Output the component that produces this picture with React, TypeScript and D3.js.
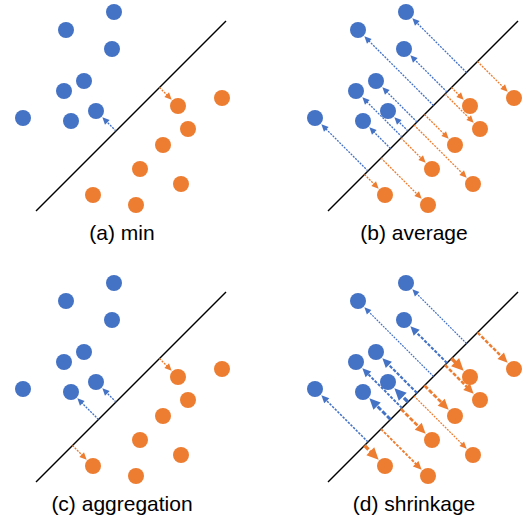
import React from 'react';
import * as d3 from 'd3';

// feature space, y pointing up
const blueX = [114, 66, 112, 84, 64, 96, 23, 71];
const blueY = [238, 220, 201, 169, 159, 139, 132, 129];
const orangeX = [178, 222, 188, 163, 140, 181, 93, 136];
const orangeY = [144, 152, 121, 105, 81, 66, 55, 45];

// separating hyperplane end points
const boundaryX = [36, 226];
const boundaryY = [39, 229];

const panelLabels = ['(a) min', '(b) average', '(c) aggregation', '(d) shrinkage'];
// which points get a margin arrow in each panel
const panelBlue = [[5], [0, 1, 2, 3, 4, 5, 6, 7], [5, 7], [0, 1, 2, 3, 4, 5, 6, 7]];
const panelOrange = [[0], [0, 1, 2, 3, 4, 5, 6, 7], [0, 6], [0, 1, 2, 3, 4, 5, 6, 7]];
const panelWeighted = [false, false, false, true];

const BLUE = '#4472C4';
const ORANGE = '#ED7D31';
const R = 8;

const W = 529;
const H = 519;
const offsets = [[0, 0], [292, 0], [0, 271], [292, 271]];

// stroke width by distance to the boundary (shrinkage panel)
const weight = d3.scaleLinear().domain([25, 85]).range([3.4, 1.2]).clamp(true);

function Arrow({ x1, y1, x2, y2, color, w }) {
  const dx = x2 - x1, dy = y2 - y1;
  const len = Math.hypot(dx, dy);
  const ux = dx / len, uy = dy / len;
  const tipX = x2 - ux * (R + 1), tipY = y2 - uy * (R + 1);
  const k = 1 + (w - 1.3) * 0.35;
  const hl = 7 * k, hw = 3.3 * k;
  const bx = tipX - ux * hl, by = tipY - uy * hl;
  const head = `M${tipX},${tipY}L${bx - uy * hw},${by + ux * hw}L${bx + uy * hw},${by - ux * hw}Z`;
  return (
    <g>
      <line x1={x1} y1={y1} x2={bx + ux} y2={by + uy} stroke={color} strokeWidth={w}
        strokeDasharray={`${2 * k * k} ${1.2 * k}`} />
      <path d={head} fill={color} />
    </g>
  );
}

function Panel({ i }) {
  const [ox, oy] = offsets[i];
  const x = d3.scaleLinear().domain([0, 250]).range([ox, ox + 250]);
  const y = d3.scaleLinear().domain([0, 250]).range([oy + 250, oy]);

  const ax = x(boundaryX[0]), ay = y(boundaryY[0]);
  const bx = x(boundaryX[1]), by = y(boundaryY[1]);
  const lx = bx - ax, ly = by - ay;
  const ll = Math.hypot(lx, ly);
  const project = (px, py) => {
    const t = ((px - ax) * lx + (py - ay) * ly) / (ll * ll);
    return [ax + t * lx, ay + t * ly];
  };

  const arrows = [];
  const add = (idx, xs, ys, color) => {
    idx.forEach(j => {
      const px = x(xs[j]), py = y(ys[j]);
      const [qx, qy] = project(px, py);
      const d = Math.hypot(px - qx, py - qy);
      const w = panelWeighted[i] ? weight(d) : 1.3;
      arrows.push(<Arrow key={color + j} x1={qx} y1={qy} x2={px} y2={py} color={color} w={w} />);
    });
  };
  add(panelBlue[i], blueX, blueY, BLUE);
  add(panelOrange[i], orangeX, orangeY, ORANGE);

  return (
    <g>
      <line x1={ax} y1={ay} x2={bx} y2={by} stroke="#000" strokeWidth={1.5} />
      {arrows}
      {blueX.map((v, j) => <circle key={'b' + j} cx={x(v)} cy={y(blueY[j])} r={R} fill={BLUE} />)}
      {orangeX.map((v, j) => <circle key={'o' + j} cx={x(v)} cy={y(orangeY[j])} r={R} fill={ORANGE} />)}
      <text x={ox + 122} y={oy + 240} textAnchor="middle" fontSize={21}
        fontFamily="'Liberation Sans', Arial, Helvetica, sans-serif" fill="#000">
        {panelLabels[i]}
      </text>
    </g>
  );
}

export default function App() {
  return (
    <svg width={W} height={H} style={{ position: 'absolute', left: 0, top: 0, background: '#fff' }}>
      {panelLabels.map((_, i) => <Panel key={i} i={i} />)}
    </svg>
  );
}
